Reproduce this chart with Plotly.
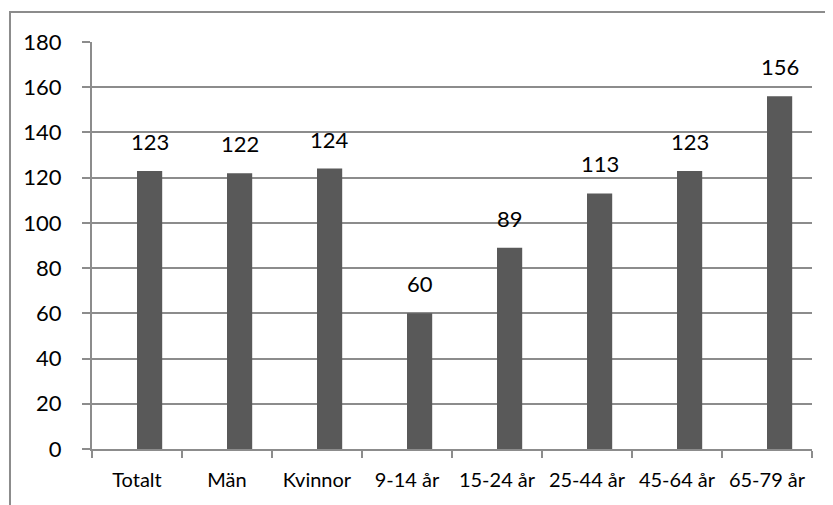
import plotly.graph_objects as go

categories = ["Totalt", "Män", "Kvinnor", "9-14 år", "15-24 år", "25-44 år", "45-64 år", "65-79 år"]
values = [123, 122, 124, 60, 89, 113, 123, 156]
y_ticks = [0, 20, 40, 60, 80, 100, 120, 140, 160, 180]

GRID = "#8c8c8c"
BAR = "#595959"
FONT = "Lato"

fig = go.Figure()
fig.add_trace(go.Bar(
    x=categories, y=values,
    marker=dict(color=BAR, line=dict(width=0)),
    width=0.28, offset=0.0,
    hoverinfo="skip",
))

for c, v in zip(categories, values):
    fig.add_annotation(
        x=c, y=v, text=str(v), showarrow=False,
        xanchor="center", yanchor="bottom",
        xshift=12.6, yshift=14,
        font=dict(family=FONT, size=22, color="#000000"),
    )

fig.add_shape(
    type="rect", xref="paper", yref="paper",
    x0=-0.1139, x1=1.05, y0=-0.2, y1=1.0737,
    line=dict(color="#8c8c8c", width=2), fillcolor="rgba(0,0,0,0)",
    layer="below",
)

fig.update_layout(
    width=825, height=497,
    margin=dict(l=84, r=21, t=34, b=56),
    paper_bgcolor="white", plot_bgcolor="white",
    showlegend=False,
    font=dict(family=FONT, color="#000000"),
    xaxis=dict(
        type="category",
        showgrid=False,
        showline=True, linecolor=GRID, linewidth=2,
        ticks="outside", tickson="boundaries", ticklen=7, tickwidth=2, tickcolor=GRID,
        tickfont=dict(family=FONT, size=20),
        tickangle=0,
        automargin=False,
        ticklabelstandoff=12,
        fixedrange=True,
    ),
    yaxis=dict(
        range=[0, 180],
        tickvals=y_ticks,
        showgrid=True, gridcolor=GRID, gridwidth=2,
        showline=True, linecolor=GRID, linewidth=2,
        ticks="outside", ticklen=8, tickwidth=2, tickcolor=GRID,
        tickfont=dict(family=FONT, size=22),
        ticklabelstandoff=16,
        zeroline=False,
        automargin=False,
        fixedrange=True,
    ),
)

fig.write_html("out.html")
